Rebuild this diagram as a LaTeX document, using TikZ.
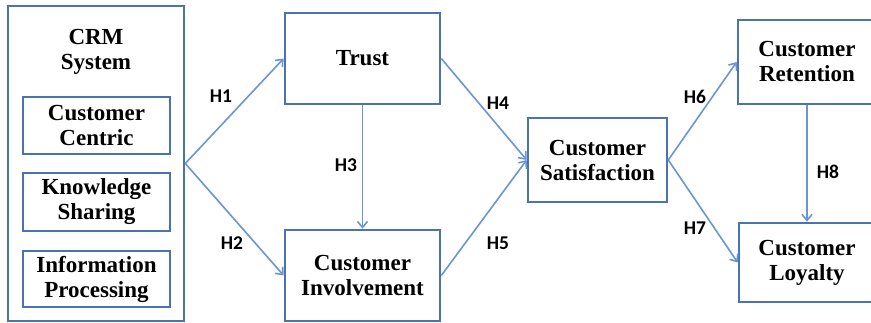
\documentclass[tikz,border=0pt]{standalone}
\usepackage{fontspec}
\setmainfont{Liberation Serif}
\newfontfamily\hypfont{Carlito}
\usetikzlibrary{arrows.meta,positioning}

\definecolor{boxblue}{HTML}{4A74B0}
\definecolor{arrowblue}{HTML}{6A96D4}

\begin{document}
\begin{tikzpicture}[x=1pt,y=-1pt,
    box/.style={draw=boxblue,line width=2.6pt,fill=white,align=center,
                font=\fontsize{23}{25}\selectfont\bfseries,inner sep=0pt},
    link/.style={draw=arrowblue,line width=1.6pt,-{Straight Barb[length=6pt,width=10pt]}},
    hyp/.style={font=\hypfont\fontsize{19.5}{21}\selectfont\bfseries}]

\clip (0,0) rectangle (871,323);
\fill[white] (0,0) rectangle (871,323);

% CRM system with its three parts
\node[box,minimum width=176pt,minimum height=315pt] (crm) at (96,163.5) {};
\node[align=center,font=\fontsize{23}{25}\selectfont\bfseries] (crmtitle) at (96,52) {CRM\\System};
\node[box,minimum width=147pt,minimum height=57pt] (centric) at (96.5,125.5) {Customer\\Centric};
\node[box,minimum width=147pt,minimum height=58pt] (sharing) at (96.5,202) {Knowledge\\Sharing};
\node[box,minimum width=147pt,minimum height=56pt] (processing) at (96.5,279) {Information\\Processing};

% middle column
\node[box,minimum width=155pt,minimum height=91pt] (trust) at (362.5,58.5) {Trust};
\node[box,minimum width=155pt,minimum height=91pt] (involvement) at (362.5,275.5) {Customer\\Involvement};
\node[box,minimum width=139pt,minimum height=84pt] (satisfaction) at (597.5,160) {Customer\\Satisfaction};

% outcomes (right edge runs off the page)
\node[box,minimum width=138pt,minimum height=84pt] (retention) at (807,62) {Customer\\Retention};
\node[box,minimum width=136pt,minimum height=79pt] (loyalty) at (807,262.5) {Customer\\Loyalty};

% hypotheses
\draw[link] (crm.east) -- (trust.west);
\draw[link] (crm.east) -- (involvement.west);
\draw[link] (trust.south) -- (involvement.north);
\draw[link] (trust.east) -- (satisfaction.west);
\draw[link] (involvement.east) -- (satisfaction.west);
\draw[link] (satisfaction.east) -- (retention.west);
\draw[link] (satisfaction.east) -- (loyalty.west);
\draw[link] (retention.south) -- (loyalty.north);

\node[hyp] (h1) at (221,96) {H1};
\node[hyp] (h2) at (232,243) {H2};
\node[hyp] (h3) at (346,165) {H3};
\node[hyp] (h4) at (498,103) {H4};
\node[hyp] (h5) at (498,243) {H5};
\node[hyp] (h6) at (695,97) {H6};
\node[hyp] (h7) at (695,228) {H7};
\node[hyp] (h8) at (828,172) {H8};

\end{tikzpicture}
\end{document}
